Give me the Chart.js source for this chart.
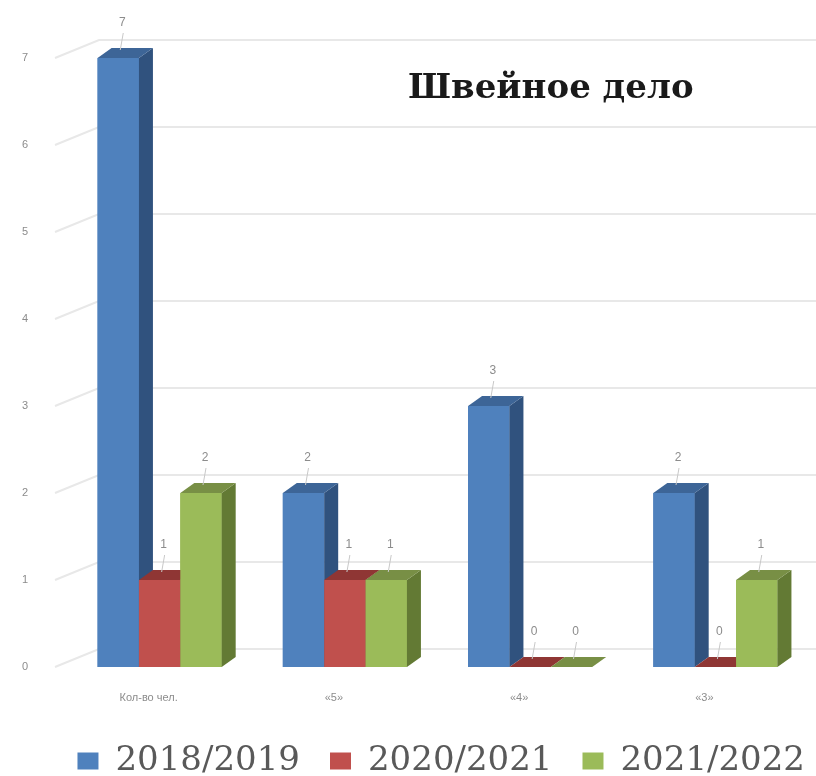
<!DOCTYPE html>
<html>
<head>
<meta charset="utf-8">
<script src="https://cdn.jsdelivr.net/npm/chart.js"></script>
<style>
  html, body { margin: 0; padding: 0; background: #fff; }
  #wrap { width: 816px; height: 776px; }
</style>
</head>
<body>
<div id="wrap"><canvas id="myChart"></canvas></div>
<script>
const categories = ['Кол-во чел.', '«5»', '«4»', '«3»'];
const seriesNames = ['2018/2019', '2020/2021', '2021/2022'];
const values2018 = [7, 2, 3, 2];
const values2020 = [1, 1, 0, 0];
const values2021 = [2, 1, 0, 1];
const yMax = 7;
const chartTitle = 'Швейное дело';

// front / top / side colours of each series
const faces = [
  {front: '#4F81BD', top: '#3D6597', side: '#30527E'},
  {front: '#C0504D', top: '#8F3634', side: '#8A3532'},
  {front: '#9BBB59', top: '#788F45', side: '#637A34'}
];
const dx = 14, dy = -10;

const bars3d = {
  id: 'bars3d',
  afterLayout(chart) {
    // push legend row to the right edge like the original
    chart.legend.left += 27;
    chart.legend.right += 27;
  },
  beforeDatasetsDraw(chart) {
    const {ctx, chartArea, scales: {y}} = chart;
    ctx.save();
    ctx.strokeStyle = '#e8e8e8';
    ctx.lineWidth = 2;
    y.ticks.forEach(t => {
      const py = y.getPixelForValue(t.value);
      ctx.beginPath();
      ctx.moveTo(chartArea.left - 12, py);
      ctx.lineTo(chartArea.left + 32, py - 18);
      ctx.lineTo(chart.width, py - 18);
      ctx.stroke();
    });
    ctx.font = 'bold 34px "DejaVu Serif"';
    ctx.fillStyle = '#1a1a1a';
    ctx.textBaseline = 'alphabetic';
    ctx.fillText(chartTitle, chartArea.left + 341, chartArea.top + 40);
    ctx.restore();
  },
  afterDatasetsDraw(chart) {
    const {ctx} = chart;
    ctx.save();
    // chart.js paints the last dataset first, so repaint the boxes left to right
    chart.data.datasets.forEach((ds, i) => {
      const c = faces[i];
      chart.getDatasetMeta(i).data.forEach(bar => {
        const l = bar.x - bar.width / 2, r = bar.x + bar.width / 2;
        const top = bar.y, base = bar.base;
        ctx.fillStyle = c.front;
        ctx.fillRect(l, top, r - l, base - top);
        ctx.fillStyle = c.side;
        ctx.beginPath();
        ctx.moveTo(r, top);
        ctx.lineTo(r + dx, top + dy);
        ctx.lineTo(r + dx, base + dy);
        ctx.lineTo(r, base);
        ctx.closePath();
        ctx.fill();
        ctx.fillStyle = c.top;
        ctx.beginPath();
        ctx.moveTo(l, top);
        ctx.lineTo(l + dx, top + dy);
        ctx.lineTo(r + dx, top + dy);
        ctx.lineTo(r, top);
        ctx.closePath();
        ctx.fill();
      });
    });

    ctx.font = '12px "Liberation Sans"';
    ctx.fillStyle = '#8c8c8c';
    ctx.strokeStyle = '#c8c8c8';
    ctx.lineWidth = 1;
    ctx.textAlign = 'center';
    ctx.textBaseline = 'middle';
    chart.data.datasets.forEach((ds, i) => {
      chart.getDatasetMeta(i).data.forEach((bar, j) => {
        ctx.beginPath();
        ctx.moveTo(bar.x + 2, bar.y - 8);
        ctx.lineTo(bar.x + 5, bar.y - 25);
        ctx.stroke();
        ctx.fillText(String(ds.data[j]), bar.x + 4, bar.y - 35);
      });
    });
    ctx.restore();
  }
};

const ctx = document.getElementById('myChart');
new Chart(ctx, {
  type: 'bar',
  data: {
    labels: categories,
    datasets: [values2018, values2020, values2021].map((vals, i) => ({
      label: seriesNames[i],
      data: vals,
      backgroundColor: faces[i].front,
      categoryPercentage: 0.67,
      barPercentage: 1
    }))
  },
  options: {
    responsive: true,
    maintainAspectRatio: false,
    animation: false,
    layout: {padding: {top: 58, right: 8, left: 0, bottom: 0}},
    plugins: {
      tooltip: {enabled: false},
      legend: {
        position: 'bottom',
        align: 'end',
        maxHeight: 62,
        labels: {
          boxWidth: 21,
          boxHeight: 17,
          padding: 30,
          color: '#595959',
          font: {family: 'DejaVu Serif', size: 34}
        }
      }
    },
    scales: {
      x: {
        grid: {display: false, drawTicks: false},
        border: {display: false},
        ticks: {
          color: '#8c8c8c',
          font: {family: 'Liberation Sans', size: 11},
          padding: 24,
          labelOffset: -11
        },
        afterFit(s) { s.height = 47; }
      },
      y: {
        min: 0,
        max: yMax,
        grid: {display: false, drawTicks: false},
        border: {display: false},
        ticks: {
          stepSize: 1,
          color: '#8c8c8c',
          font: {family: 'Liberation Sans', size: 11},
          padding: 39
        },
        afterFit(s) { s.width = 67; }
      }
    }
  },
  plugins: [bars3d]
});
</script>
</body>
</html>
